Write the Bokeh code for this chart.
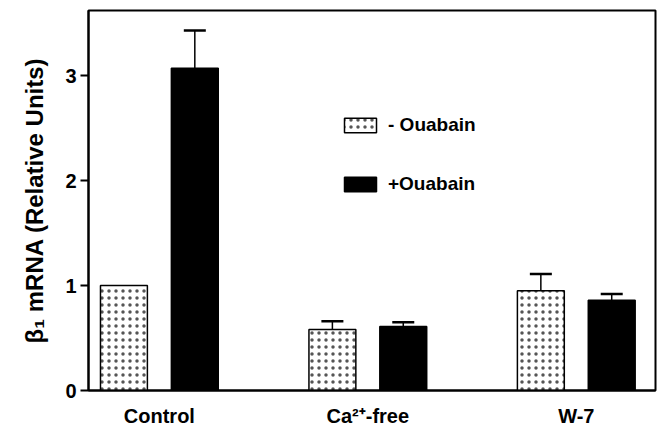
from bokeh.plotting import figure
from bokeh.models import ColumnDataSource, Whisker, FixedTicker, Legend, LegendItem, Range1d
from bokeh.embed import file_html
from bokeh.resources import INLINE

groups = ["Control", "Ca²⁺-free", "W-7"]
minus_vals = [1.00, 0.58, 0.95]
minus_err = [0.00, 0.08, 0.16]
plus_vals = [3.07, 0.61, 0.86]
plus_err = [0.36, 0.04, 0.06]
y_ticks = [0, 1, 2, 3]

offset = 0.17
bw = 0.225
xs = list(range(len(groups)))

src_m = ColumnDataSource(dict(x=[i - offset for i in xs], top=minus_vals))
src_p = ColumnDataSource(dict(x=[i + offset for i in xs], top=plus_vals))

em = [(i - offset, v, e) for i, v, e in zip(xs, minus_vals, minus_err) if e > 0]
ep = [(i + offset, v, e) for i, v, e in zip(xs, plus_vals, plus_err) if e > 0]
err_rows = em + ep
src_e = ColumnDataSource(dict(
    x=[r[0] for r in err_rows],
    lower=[r[1] for r in err_rows],
    upper=[r[1] + r[2] for r in err_rows],
))

p = figure(width=658, height=436, output_backend="svg", toolbar_location=None,
           x_range=Range1d(-0.34, 2.38), y_range=Range1d(0, 3.62),
           min_border_left=88, min_border_right=3, min_border_top=10, min_border_bottom=46)
p.grid.visible = False
p.outline_line_color = "black"
p.outline_line_width = 2

r_m = p.vbar(x="x", top="top", width=bw, source=src_m, fill_color="white",
             line_color="black", line_width=1.5, hatch_pattern="dot",
             hatch_scale=7, hatch_weight=0.8, hatch_color="#555555")
r_p = p.vbar(x="x", top="top", width=bw, source=src_p, fill_color="black",
             line_color="black", line_width=1.5)

w = Whisker(base="x", lower="lower", upper="upper", source=src_e,
            line_color="black", line_width=1.5, lower_head=None)
w.upper_head.size = 22
w.upper_head.line_width = 2.5
p.add_layout(w)

# axes
p.yaxis.ticker = FixedTicker(ticks=y_ticks)
p.yaxis.minor_tick_line_color = None
p.yaxis.major_tick_out = 8
p.yaxis.major_tick_in = 0
p.yaxis.major_tick_line_width = 2
p.yaxis.axis_line_width = 2
p.yaxis.major_label_text_font = "Liberation Sans"
p.yaxis.major_label_text_font_style = "bold"
p.yaxis.major_label_text_font_size = "20px"
p.yaxis.major_label_text_color = "black"
p.yaxis.major_label_standoff = 4
p.yaxis.axis_label = "β₁ mRNA (Relative Units)"
p.yaxis.axis_label_text_font = "Liberation Sans"
p.yaxis.axis_label_text_font_style = "bold"
p.yaxis.axis_label_text_font_size = "24px"
p.yaxis.axis_label_text_color = "black"
p.yaxis.axis_label_standoff = 14

p.xaxis.ticker = FixedTicker(ticks=xs)
p.xaxis.major_label_overrides = {i: g for i, g in zip(xs, groups)}
p.xaxis.major_tick_line_color = None
p.xaxis.minor_tick_line_color = None
p.xaxis.axis_line_width = 2
p.xaxis.major_label_text_font = "Liberation Sans"
p.xaxis.major_label_text_font_style = "bold"
p.xaxis.major_label_text_font_size = "20px"
p.xaxis.major_label_text_color = "black"
p.xaxis.major_label_standoff = 8

legend = Legend(items=[LegendItem(label="- Ouabain", renderers=[r_m]),
                       LegendItem(label="+Ouabain", renderers=[r_p])],
                location=(252, 195), padding=0, margin=0, spacing=37,
                glyph_width=40, glyph_height=18, label_height=18,
                label_standoff=8, border_line_color=None,
                background_fill_alpha=0,
                label_text_font="Liberation Sans", label_text_font_style="bold",
                label_text_font_size="19px", label_text_color="black")
p.add_layout(legend)

open("out.html", "w").write(file_html(p, INLINE))
